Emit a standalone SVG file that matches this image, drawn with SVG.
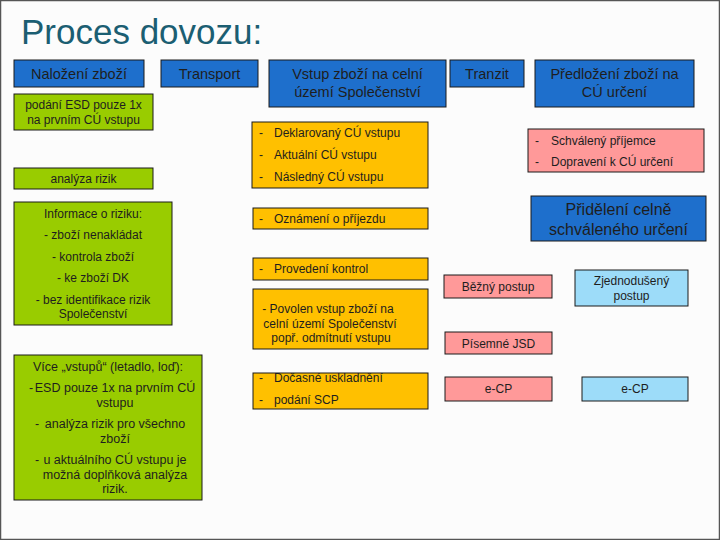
<svg xmlns="http://www.w3.org/2000/svg" width="720" height="540" viewBox="0 0 720 540">
<style>
.t{font-family:"Liberation Sans",Arial,sans-serif;fill:#1e1e1e}
.c{text-anchor:middle}
.b{fill:#1e6fcc;stroke:#1a1a1a;stroke-width:1}
.g{fill:#99cc00;stroke:#1a1a1a;stroke-width:1}
.o{fill:#ffc000;stroke:#1a1a1a;stroke-width:1}
.p{fill:#ff9999;stroke:#1a1a1a;stroke-width:1}
.l{fill:#9ddcf9;stroke:#1a1a1a;stroke-width:1}
.f14{font-size:14.5px}
.f12{font-size:12px}
.f13{font-size:12.5px}
</style>
<rect x="0" y="0" width="720" height="540" fill="#fcfcfc"/>
<rect x="0.5" y="0.5" width="719" height="539" fill="none" stroke="#555" stroke-width="1.5"/>
<text x="21" y="44" class="t" style="font-size:35px;fill:#1b5e72">Proces dovozu:</text>

<g id="n-nalozeni"><rect class="b" x="14" y="60" width="130" height="27"/><text class="t c f14" x="79" y="79">Naložení zboží</text></g>
<g id="n-transport"><rect class="b" x="161" y="60" width="97" height="27"/><text class="t c f14" x="209.5" y="79">Transport</text></g>
<g id="n-vstup"><rect class="b" x="269" y="60" width="177" height="47"/><text class="t c f14" x="357.5" y="79">Vstup zboží na celní</text><text class="t c f14" x="357.5" y="97">území Společenství</text></g>
<g id="n-tranzit"><rect class="b" x="450" y="60" width="74" height="27"/><text class="t c f14" x="487" y="79">Tranzit</text></g>
<g id="n-predlozeni"><rect class="b" x="535" y="60" width="159" height="47"/><text class="t c f14" x="614.5" y="79">Předložení zboží na</text><text class="t c f14" x="614.5" y="97">CÚ určení</text></g>

<g id="n-esd"><rect class="g" x="14" y="94" width="139" height="36"/><text class="t c f12" x="83.5" y="109">podání ESD pouze 1x</text><text class="t c f12" x="83.5" y="124">na prvním CÚ vstupu</text></g>
<g id="n-analyza"><rect class="g" x="14" y="168" width="139" height="21"/><text class="t c f12" x="83.5" y="183">analýza rizik</text></g>
<g id="n-informace"><rect class="g" x="14" y="202" width="158" height="123"/>
<text class="t c f12" x="93" y="218">Informace o riziku:</text>
<text class="t c f12" x="93" y="239">-  zboží nenakládat</text>
<text class="t c f12" x="93" y="261">-  kontrola zboží</text>
<text class="t c f12" x="93" y="282">-  ke zboží DK</text>
<text class="t c f12" x="93" y="304">-  bez identifikace rizik</text>
<text class="t c f12" x="93" y="318">Společenství</text></g>
<g id="n-vice"><rect class="g" x="14" y="355" width="188" height="145"/>
<text class="t c f13" x="108" y="371">Více „vstupů“ (letadlo, loď):</text>
<text class="t f13" x="29" y="392">-</text><text class="t c f13" x="115" y="392">ESD pouze 1x na prvním CÚ</text>
<text class="t c f13" x="115" y="407">vstupu</text>
<text class="t f13" x="35" y="428">-</text><text class="t c f13" x="115" y="428">analýza rizik pro všechno</text>
<text class="t c f13" x="115" y="443">zboží</text>
<text class="t f13" x="35" y="464">-</text><text class="t c f13" x="115" y="464">u aktuálního CÚ vstupu je</text>
<text class="t c f13" x="115" y="479">možná doplňková analýza</text>
<text class="t c f13" x="115" y="493">rizik.</text></g>

<g id="n-deklarovany"><rect class="o" x="252" y="122" width="176" height="66"/>
<text class="t f12" x="259" y="137">-</text><text class="t f12" x="274" y="137">Deklarovaný CÚ vstupu</text>
<text class="t f12" x="259" y="159">-</text><text class="t f12" x="274" y="159">Aktuální CÚ vstupu</text>
<text class="t f12" x="259" y="181">-</text><text class="t f12" x="274" y="181">Následný CÚ vstupu</text></g>
<g id="n-oznameni"><rect class="o" x="253" y="208" width="175" height="21"/><text class="t f12" x="259" y="223">-</text><text class="t f12" x="274" y="223">Oznámení o příjezdu</text></g>
<g id="n-provedeni"><rect class="o" x="253" y="258" width="175" height="22"/><text class="t f12" x="259" y="273">-</text><text class="t f12" x="274" y="273">Provedení kontrol</text></g>
<g id="n-povolen"><rect class="o" x="253" y="289" width="175" height="60"/>
<text class="t c f12" x="328" y="313">-  Povolen vstup zboží na</text>
<text class="t c f12" x="330" y="328">celní území Společenství</text>
<text class="t c f12" x="331" y="342">popř. odmítnutí vstupu</text></g>
<g id="n-docasne"><rect class="o" x="253" y="373" width="175" height="36"/>
<text class="t f12" x="259" y="381" dy="0"></text>
<text class="t f12" x="259" y="382">-</text><text class="t f12" x="274" y="382">Dočasné uskladnění</text>
<text class="t f12" x="259" y="404">-</text><text class="t f12" x="274" y="404">podání SCP</text></g>

<g id="n-schvaleny"><rect class="p" x="528" y="129" width="176" height="43"/>
<text class="t f12" x="535" y="145">-</text><text class="t f12" x="551" y="145">Schválený příjemce</text>
<text class="t f12" x="535" y="166">-</text><text class="t f12" x="551" y="166">Dopravení k CÚ určení</text></g>
<g id="n-prideleni"><rect class="b" x="531" y="196" width="175" height="45"/><text class="t c" style="font-size:16px" x="618.5" y="215">Přidělení celně</text><text class="t c" style="font-size:16px" x="618.5" y="235">schváleného určení</text></g>
<g id="n-bezny"><rect class="p" x="444" y="275" width="108" height="23"/><text class="t c f12" x="498" y="291">Běžný postup</text></g>
<g id="n-zjednoduseny"><rect class="l" x="575" y="270" width="113" height="36"/><text class="t c f12" x="631.5" y="285">Zjednodušený</text><text class="t c f12" x="631.5" y="300">postup</text></g>
<g id="n-pisemne"><rect class="p" x="445" y="332" width="107" height="22"/><text class="t c f12" x="498.5" y="348">Písemné JSD</text></g>
<g id="n-ecp1"><rect class="p" x="445" y="377" width="107" height="24"/><text class="t c f12" x="498.5" y="393">e-CP</text></g>
<g id="n-ecp2"><rect class="l" x="582" y="377" width="106" height="24"/><text class="t c f12" x="635" y="393">e-CP</text></g>
<g id="connectors"></g>
</svg>
